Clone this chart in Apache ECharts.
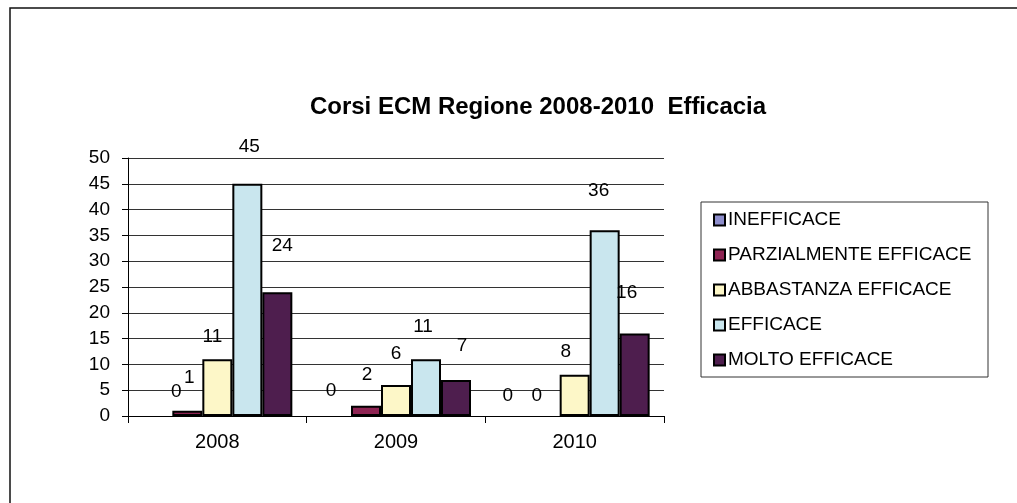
<!DOCTYPE html>
<html>
<head>
<meta charset="utf-8">
<script src="https://cdn.jsdelivr.net/npm/echarts@6/dist/echarts.min.js"></script>
<style>
  html, body { margin: 0; padding: 0; background: #ffffff; }
  #chart { width: 1017px; height: 503px; }
</style>
</head>
<body>
<div id="chart"></div>
<script>
// Anni del corso
const years = ['2008', '2009', '2010'];

// Giudizi di efficacia (nomi delle serie)
const ratings = ['INEFFICACE', 'PARZIALMENTE EFFICACE', 'ABBASTANZA EFFICACE', 'EFFICACE', 'MOLTO EFFICACE'];

// Numero di corsi per giudizio, un valore per anno
const inefficace = [0, 0, 0];
const parzialmente = [1, 2, 0];
const abbastanza = [11, 6, 8];
const efficace = [45, 11, 36];
const moltoEfficace = [24, 7, 16];

// Tick dell'asse dei valori
const yTicks = { min: 0, max: 50, step: 5 };

const seriesValues = [inefficace, parzialmente, abbastanza, efficace, moltoEfficace];
const seriesColors = ['#8d8dcb', '#8e2453', '#fdf7c8', '#c9e6ee', '#4e1e4e'];

// Spostamento delle etichette rispetto alla cima della barra [dx, dy]
const labelNudge = [
  [[19, -15], [-5, -16], [-7, -11]],
  [[2, -24], [1, -21], [-8, -11]],
  [[-5, -13], [0, -22], [-9, -13]],
  [[2, -28], [-3, -23], [-6, -30]],
  [[5, -37], [6, -25], [-8, -31]]
];

const FONT = 'Liberation Sans, Arial, sans-serif';

const chart = echarts.init(document.getElementById('chart'), null, { renderer: 'canvas' });

const series = ratings.map((name, s) => ({
  name: name,
  type: 'bar',
  barWidth: 30,
  barGap: '0%',
  itemStyle: { color: seriesColors[s], borderColor: '#000000', borderWidth: 2 },
  data: seriesValues[s].map((v, i) => ({
    value: v,
    // una barra a zero non lascia traccia sopra l'asse
    itemStyle: v === 0 ? { color: 'rgba(0,0,0,0)', borderWidth: 0 } : undefined,
    label: { offset: labelNudge[s][i] }
  })),
  label: {
    show: true,
    position: 'top',
    distance: 0,
    color: '#000000',
    fontFamily: FONT,
    fontSize: 19
  },
  emphasis: { disabled: true }
}));

chart.setOption({
  backgroundColor: '#ffffff',
  animation: false,
  title: {
    text: 'Corsi ECM Regione 2008-2010  Efficacia',
    left: 533,
    top: 90,
    textAlign: 'center',
    textStyle: { fontFamily: FONT, fontSize: 24, fontWeight: 'bold', color: '#000000' }
  },
  graphic: [
    {
      type: 'rect',
      shape: { x: 10, y: 8, width: 1200, height: 700 },
      style: { fill: 'none', stroke: '#111111', lineWidth: 1.5 },
      silent: true,
      z: -1
    },
    {
      type: 'rect',
      shape: { x: 701, y: 202, width: 287, height: 175 },
      style: { fill: '#ffffff', stroke: '#333333', lineWidth: 1 },
      silent: true,
      z: -1
    }
  ],
  legend: {
    orient: 'vertical',
    left: 713,
    top: 210,
    padding: 0,
    itemWidth: 11,
    itemHeight: 11,
    itemGap: 15,
    icon: 'rect',
    selectedMode: false,
    textStyle: { fontFamily: FONT, fontSize: 19, color: '#000000', lineHeight: 20, padding: [0, 0, 0, -2] },
    data: ratings
  },
  grid: { left: 128, right: 353, top: 158, bottom: 87 },
  xAxis: {
    type: 'category',
    data: years,
    axisLine: { show: true, lineStyle: { color: '#000000', width: 1 } },
    axisTick: { show: true, length: 7, lineStyle: { color: '#000000' } },
    axisLabel: { fontFamily: FONT, fontSize: 20, color: '#000000', margin: 16 },
    splitLine: { show: false }
  },
  yAxis: {
    type: 'value',
    min: yTicks.min,
    max: yTicks.max,
    interval: yTicks.step,
    axisLine: { show: true, lineStyle: { color: '#000000', width: 1 } },
    axisTick: { show: true, length: 6, lineStyle: { color: '#000000' } },
    axisLabel: { fontFamily: FONT, fontSize: 19, color: '#000000', margin: 18 },
    splitLine: { show: true, lineStyle: { color: '#333333', width: 1 } }
  },
  series: series
});
</script>
</body>
</html>
